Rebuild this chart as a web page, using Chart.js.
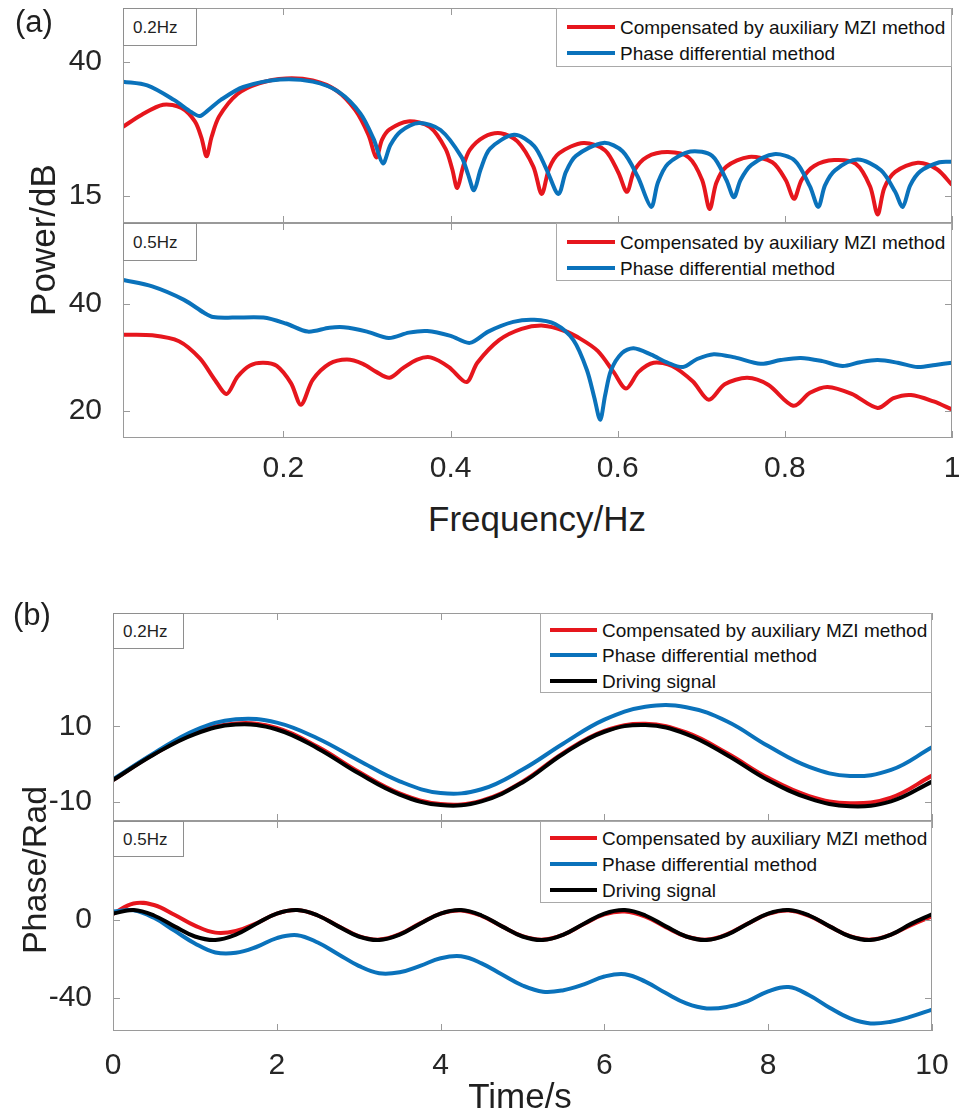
<!DOCTYPE html>
<html>
<head>
<meta charset="utf-8">
<script src="https://cdn.jsdelivr.net/npm/chart.js@4.4.0/dist/chart.umd.min.js"></script>
<style>
    body { margin: 0; background: #fff; font-family: 'Liberation Sans', Arial, sans-serif; }
    #page { position: relative; width: 968px; height: 1117px; overflow: hidden; }
    canvas { position: absolute; left: 0; }
    .txt { position: absolute; color: #1f1f1f; line-height: 1; white-space: nowrap; transform: translateY(-50%); }
    .rot { position: absolute; color: #1f1f1f; line-height: 1; white-space: nowrap; transform: translate(-50%, -50%) rotate(-90deg); }
    .center { transform: translate(-50%, -50%); }
    .legend { position: absolute; background: #fff; border: 1px solid #a9a9a9; box-sizing: border-box; }
    .row { position: absolute; font-size: 19px; line-height: 1; color: #111; white-space: nowrap; transform: translateY(-50%); }
    .swatch { position: absolute; height: 4px; transform: translateY(-50%); }
    .tag { position: absolute; border: 1px solid #8e8e8e; box-sizing: border-box; background: #fff; }
</style>
</head>
<body>
<div id="page">
    <canvas id="chartA1"></canvas>
    <canvas id="chartA2"></canvas>
    <canvas id="chartB1"></canvas>
    <canvas id="chartB2"></canvas>
</div>
<script>
// Data: panel (a), power spectrum
const freqRedA1 = [0.008, 0.030, 0.056, 0.078, 0.094, 0.102, 0.108, 0.114, 0.123, 0.145, 0.171, 0.203, 0.235, 0.263, 0.286, 0.302, 0.311, 0.318, 0.327, 0.349, 0.375, 0.394, 0.402, 0.408, 0.415, 0.423, 0.440, 0.460, 0.480, 0.499, 0.509, 0.518, 0.530, 0.559, 0.585, 0.601, 0.611, 0.620, 0.635, 0.660, 0.685, 0.701, 0.710, 0.718, 0.730, 0.757, 0.785, 0.801, 0.811, 0.820, 0.835, 0.859, 0.885, 0.902, 0.911, 0.919, 0.932, 0.959, 0.982, 1.000];
const powRedA1 = [27.9, 30.1, 32.0, 31.4, 28.9, 25.8, 22.4, 26.0, 29.8, 34.0, 36.0, 36.9, 36.5, 34.7, 31.0, 26.3, 22.2, 25.5, 27.4, 28.9, 27.9, 23.8, 20.0, 16.5, 20.5, 23.6, 26.0, 26.7, 25.2, 20.5, 15.4, 20.2, 23.0, 24.9, 23.5, 19.3, 15.8, 19.8, 22.3, 23.2, 22.2, 18.0, 12.6, 17.5, 20.5, 22.3, 21.3, 18.0, 14.5, 18.0, 20.6, 21.7, 21.0, 16.8, 11.6, 16.5, 19.5, 21.2, 20.0, 17.1];
const freqBlueA1 = [0.008, 0.037, 0.069, 0.090, 0.100, 0.110, 0.125, 0.152, 0.196, 0.235, 0.266, 0.292, 0.308, 0.319, 0.328, 0.340, 0.362, 0.388, 0.413, 0.421, 0.428, 0.436, 0.447, 0.476, 0.500, 0.515, 0.529, 0.538, 0.550, 0.583, 0.606, 0.624, 0.640, 0.648, 0.660, 0.687, 0.713, 0.730, 0.739, 0.747, 0.760, 0.787, 0.812, 0.830, 0.840, 0.848, 0.860, 0.887, 0.915, 0.932, 0.941, 0.950, 0.962, 0.985, 1.000];
const powBlueA1 = [36.3, 35.6, 32.9, 30.6, 29.9, 31.0, 32.9, 35.3, 36.7, 36.3, 34.4, 30.4, 25.6, 21.1, 24.5, 27.0, 28.6, 27.3, 22.3, 19.0, 16.1, 20.0, 23.8, 26.4, 24.3, 19.9, 15.4, 19.5, 22.5, 24.9, 23.3, 18.6, 13.0, 17.5, 21.0, 23.3, 22.5, 18.0, 14.8, 18.0, 20.8, 22.8, 21.6, 16.8, 13.0, 17.0, 19.8, 21.8, 19.8, 15.8, 13.0, 17.0, 19.6, 21.3, 21.4];

const freqRedA2 = [0.008, 0.043, 0.075, 0.100, 0.118, 0.132, 0.145, 0.160, 0.176, 0.192, 0.209, 0.221, 0.235, 0.255, 0.276, 0.295, 0.311, 0.327, 0.343, 0.360, 0.376, 0.398, 0.419, 0.432, 0.458, 0.485, 0.511, 0.535, 0.556, 0.576, 0.595, 0.610, 0.625, 0.643, 0.665, 0.690, 0.709, 0.728, 0.755, 0.780, 0.810, 0.830, 0.851, 0.880, 0.911, 0.930, 0.951, 0.978, 1.000];
const powRedA2 = [34.2, 34.1, 33.0, 29.8, 25.8, 23.2, 26.4, 28.5, 29.0, 28.4, 25.2, 21.2, 25.8, 28.8, 29.6, 28.8, 27.3, 26.2, 28.0, 29.6, 30.0, 28.2, 25.4, 29.0, 33.2, 35.3, 35.9, 35.0, 33.4, 31.2, 27.3, 24.2, 27.3, 29.0, 28.4, 25.5, 22.1, 25.0, 26.2, 24.9, 21.0, 23.4, 24.5, 23.2, 20.6, 22.4, 23.0, 21.8, 20.3];
const freqBlueA2 = [0.008, 0.043, 0.081, 0.105, 0.116, 0.140, 0.176, 0.203, 0.229, 0.255, 0.272, 0.300, 0.326, 0.350, 0.372, 0.400, 0.423, 0.445, 0.475, 0.500, 0.525, 0.547, 0.563, 0.572, 0.579, 0.585, 0.592, 0.605, 0.619, 0.640, 0.660, 0.678, 0.695, 0.715, 0.740, 0.771, 0.795, 0.819, 0.845, 0.869, 0.890, 0.911, 0.935, 0.959, 0.980, 1.000];
const powBlueA2 = [44.4, 43.2, 40.7, 38.3, 37.5, 37.4, 37.4, 36.3, 34.8, 35.5, 35.6, 34.8, 33.6, 34.6, 34.9, 34.0, 32.7, 34.8, 36.6, 37.0, 36.2, 33.2, 27.7, 22.5, 18.4, 23.0, 27.6, 30.8, 31.7, 30.5, 29.0, 28.2, 29.7, 30.6, 30.0, 28.8, 29.5, 29.9, 29.3, 28.4, 29.1, 29.5, 29.0, 28.2, 28.6, 29.0];

// Data: panel (b), demodulated phase
const timeB1 = [0, 0.5, 1, 1.5, 2, 2.5, 3, 3.5, 4, 4.5, 5, 5.5, 6, 6.5, 7, 7.5, 8, 8.5, 9, 9.5, 10];
const redB1 = [-4.2, 2.7, 8.2, 10.8, 9.6, 4.6, -2.0, -7.7, -10.5, -9.6, -4.6, 3.0, 8.8, 10.7, 8.4, 2.9, -3.6, -8.4, -10.3, -8.8, -3.0];
const blueB1 = [-4.0, 2.9, 9.0, 11.9, 11.0, 6.8, 1.0, -4.5, -7.6, -6.6, -1.4, 5.5, 11.8, 15.2, 15.1, 11.3, 4.8, -0.7, -3.1, -1.5, 4.5];
const blackB1 = [-4.2, 2.6, 8.0, 10.5, 9.2, 4.2, -2.4, -8.0, -10.8, -9.8, -4.8, 2.8, 8.6, 10.4, 8.0, 2.4, -4.2, -9.0, -11.1, -9.8, -4.6];

const timeB2 = [0, 0.25, 0.5, 0.75, 1, 1.25, 1.5, 1.75, 2, 2.25, 2.5, 2.75, 3, 3.25, 3.5, 3.75, 4, 4.25, 4.5, 4.75, 5, 5.25, 5.5, 5.75, 6, 6.25, 6.5, 6.75, 7, 7.25, 7.5, 7.75, 8, 8.25, 8.5, 8.75, 9, 9.25, 9.5, 9.75, 10];
const redB2 = [3.2, 8.6, 7.8, 2.8, -2.8, -6.4, -5.6, -1.6, 3.4, 5.2, 2.4, -3.0, -8.2, -10.0, -7.2, -1.6, 3.4, 5.0, 2.2, -3.2, -8.2, -10.0, -7.4, -2.0, 3.0, 4.4, 1.8, -3.6, -8.4, -10.0, -7.2, -1.8, 3.2, 5.0, 2.2, -3.2, -8.2, -10.0, -7.4, -2.4, 2.0];
const blueB2 = [4.4, 5.1, 1.2, -5.4, -12.0, -16.6, -16.8, -13.8, -9.2, -7.7, -11.5, -17.5, -23.5, -27.3, -26.8, -23.5, -19.6, -18.6, -22.2, -28.0, -33.6, -36.8, -36.0, -33.0, -29.0, -27.8, -31.6, -37.5, -42.8, -45.4, -44.6, -41.6, -36.6, -34.4, -38.6, -45.0, -50.5, -53.1, -52.2, -49.5, -46.0];
const blackB2 = [3.4, 5.2, 2.4, -3.2, -8.4, -10.2, -7.4, -1.8, 3.4, 5.2, 2.4, -3.2, -8.4, -10.2, -7.4, -1.8, 3.4, 5.2, 2.4, -3.2, -8.4, -10.2, -7.4, -1.8, 3.4, 5.2, 2.4, -3.2, -8.4, -10.2, -7.4, -1.8, 3.4, 5.2, 2.4, -3.2, -8.4, -10.2, -7.4, -1.8, 3.0];

// Ticks and labels
const freqTicks = [0.2, 0.4, 0.6, 0.8, 1];
const powTicksA1 = [15, 40];
const powTicksA2 = [20, 40];
const timeTicks = [0, 2, 4, 6, 8, 10];
const phaseTicksB1 = [-10, 10];
const phaseTicksB2 = [-40, 0];
const seriesNames = ['Compensated by auxiliary MZI method', 'Phase differential method', 'Driving signal'];

const RED = '#e6161d';
const BLUE = '#0a72bb';
const BLACK = '#000000';

Chart.defaults.font.family = "'Liberation Sans', Arial, sans-serif";

function toPoints(xs, ys) {
    return xs.map((x, i) => ({ x: x, y: ys[i] }));
}

// Frame and inward tick marks, MATLAB style
function frameTicks(xTicks, yTicks) {
    return {
        id: 'frameTicks',
        afterDatasetsDraw(chart) {
            const { ctx, chartArea: a, scales } = chart;
            ctx.save();
            ctx.strokeStyle = '#9a9a9a';
            ctx.lineWidth = 1;
            ctx.beginPath();
            xTicks.forEach(v => {
                const x = Math.round(scales.x.getPixelForValue(v)) + 0.5;
                ctx.moveTo(x, a.bottom); ctx.lineTo(x, a.bottom - 7);
                ctx.moveTo(x, a.top); ctx.lineTo(x, a.top + 7);
            });
            yTicks.forEach(v => {
                const y = Math.round(scales.y.getPixelForValue(v)) + 0.5;
                ctx.moveTo(a.left, y); ctx.lineTo(a.left + 7, y);
                ctx.moveTo(a.right, y); ctx.lineTo(a.right - 7, y);
            });
            ctx.stroke();
            ctx.strokeRect(a.left + 0.5, a.top + 0.5, a.right - a.left - 1, a.bottom - a.top - 1);
            ctx.restore();
        }
    };
}

function noPad(s) {
    s.paddingLeft = 0; s.paddingRight = 0; s.paddingTop = 0; s.paddingBottom = 0;
}

// Build one panel
function makePanel(id, box, datasets, xCfg, yCfg) {
    const canvas = document.getElementById(id);
    canvas.width = 968;
    canvas.height = box.h;
    canvas.style.top = box.top + 'px';

    const xScale = {
        type: 'linear',
        min: xCfg.min,
        max: xCfg.max,
        display: xCfg.labels,
        grid: { display: false },
        border: { display: false },
        ticks: {
            font: { size: 30 }, color: '#262626', padding: xCfg.pad || 0,
            maxRotation: 0, autoSkip: false, callback: v => String(v)
        },
        afterBuildTicks: s => { s.ticks = xCfg.ticks.map(v => ({ value: v })); },
        afterFit: s => { s.height = xCfg.h || 0; noPad(s); }
    };
    const yScale = {
        type: 'linear',
        min: yCfg.min,
        max: yCfg.max,
        grid: { display: false },
        border: { display: false },
        ticks: { font: { size: 30 }, color: '#262626', padding: 13, callback: v => String(v) },
        afterBuildTicks: s => { s.ticks = yCfg.ticks.map(v => ({ value: v })); },
        afterFit: s => { s.width = yCfg.w; noPad(s); }
    };

    return new Chart(canvas, {
        type: 'line',
        data: { datasets: datasets },
        options: {
            responsive: false,
            animation: false,
            devicePixelRatio: 1,
            layout: { padding: box.pad },
            plugins: { legend: { display: false }, tooltip: { enabled: false } },
            elements: { point: { radius: 0 }, line: { borderWidth: 4 } },
            scales: { x: xScale, y: yScale }
        },
        plugins: [frameTicks(xCfg.ticks, yCfg.ticks)]
    });
}

function line(points, color, order, tension) {
    return { data: points, borderColor: color, order: order, fill: false, tension: tension };
}

// Overlays: legends, frequency tags, labels
const page = document.getElementById('page');

function addText(text, left, top, size, cls) {
    const d = document.createElement('div');
    d.className = cls || 'txt';
    d.textContent = text;
    d.style.left = left + 'px';
    d.style.top = top + 'px';
    d.style.fontSize = size + 'px';
    page.appendChild(d);
}

function addLegend(left, top, width, height, rowYs, colors, swX, swW, textX) {
    const box = document.createElement('div');
    box.className = 'legend';
    Object.assign(box.style, { left: left + 'px', top: top + 'px', width: width + 'px', height: height + 'px' });
    page.appendChild(box);
    rowYs.forEach((y, i) => {
        const sw = document.createElement('div');
        sw.className = 'swatch';
        Object.assign(sw.style, { left: swX + 'px', top: y + 'px', width: swW + 'px', background: colors[i] });
        page.appendChild(sw);
        const t = document.createElement('div');
        t.className = 'row';
        t.textContent = seriesNames[i];
        Object.assign(t.style, { left: textX + 'px', top: y + 'px' });
        page.appendChild(t);
    });
}

function addTag(text, left, top, width, height) {
    const d = document.createElement('div');
    d.className = 'tag';
    Object.assign(d.style, { left: left + 'px', top: top + 'px', width: width + 'px', height: height + 'px' });
    page.appendChild(d);
    addText(text, left + 10, top + height / 2, 17);
}

document.addEventListener('DOMContentLoaded', () => {
    makePanel('chartA1', { top: 0, h: 230, pad: { top: 8, right: 16, bottom: 7, left: 0 } },
        [line(toPoints(freqRedA1, powRedA1), RED, 2, 0.3), line(toPoints(freqBlueA1, powBlueA1), BLUE, 1, 0.3)],
        { min: 0.008, max: 1, ticks: freqTicks, labels: false },
        { min: 10, max: 50, ticks: powTicksA1, w: 123 });

    makePanel('chartA2', { top: 215, h: 275, pad: { top: 8, right: 16, bottom: 0, left: 0 } },
        [line(toPoints(freqRedA2, powRedA2), RED, 2, 0.3), line(toPoints(freqBlueA2, powBlueA2), BLUE, 1, 0.3)],
        { min: 0.008, max: 1, ticks: freqTicks, labels: true, h: 52, pad: 5 },
        { min: 15, max: 55, ticks: powTicksA2, w: 123 });

    makePanel('chartB1', { top: 600, h: 230, pad: { top: 13, right: 36, bottom: 9, left: 0 } },
        [line(toPoints(timeB1, redB1), RED, 3, 0.4), line(toPoints(timeB1, blueB1), BLUE, 2, 0.4),
         line(toPoints(timeB1, blackB1), BLACK, 1, 0.4)],
        { min: 0, max: 10, ticks: timeTicks, labels: false },
        { min: -15, max: 40, ticks: phaseTicksB1, w: 113 });

    makePanel('chartB2', { top: 813, h: 304, pad: { top: 8, right: 36, bottom: 0, left: 0 } },
        [line(toPoints(timeB2, redB2), RED, 3, 0.4), line(toPoints(timeB2, blueB2), BLUE, 2, 0.4),
         line(toPoints(timeB2, blackB2), BLACK, 1, 0.4)],
        { min: 0, max: 10, ticks: timeTicks, labels: true, h: 86, pad: 9 },
        { min: -57, max: 51, ticks: phaseTicksB2, w: 113 });

    addLegend(556, 8, 396, 59, [27, 53], [RED, BLUE], 567, 48, 620);
    addLegend(556, 223, 396, 58, [242, 268], [RED, BLUE], 567, 48, 620);
    addLegend(540, 613, 392, 80, [630, 655, 681], [RED, BLUE, BLACK], 550, 47, 602);
    addLegend(540, 821, 392, 82, [838, 864, 890], [RED, BLUE, BLACK], 550, 47, 602);

    addTag('0.2Hz', 123, 8, 74, 38);
    addTag('0.5Hz', 123, 223, 74, 38);
    addTag('0.2Hz', 113, 613, 71, 36);
    addTag('0.5Hz', 113, 821, 71, 36);

    addText('(a)', 15, 21, 31);
    addText('(b)', 13, 614, 31);
    addText('Power/dB', 42, 240, 35, 'rot');
    addText('Phase/Rad', 34, 870, 34, 'rot');
    addText('Frequency/Hz', 537, 518, 35, 'txt center');
    addText('Time/s', 520, 1095, 35, 'txt center');
});
</script>
</body>
</html>
